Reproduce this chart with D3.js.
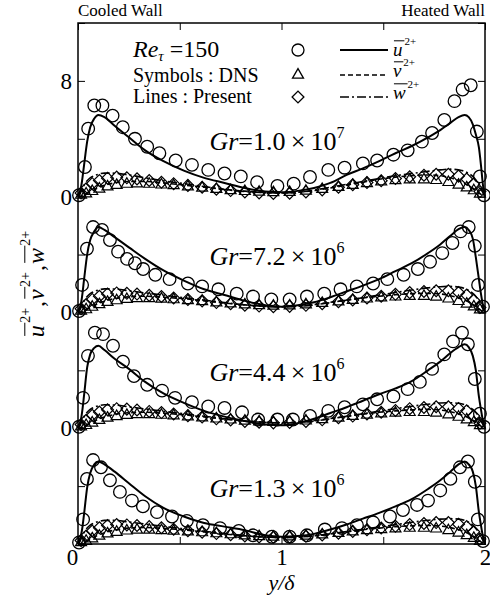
<!DOCTYPE html>
<meta charset="utf-8">
<html>
<head>
<script src="https://d3js.org/d3.v7.min.js"></script>
<style>
  body { margin: 0; background: #fff; }
  svg text { font-family: "Liberation Serif", "DejaVu Serif", serif; fill: #000; }
</style>
</head>
<body>
<div id="chart"></div>
<script>

// y/delta positions of the model curves
var lineX = [0, 0.01, 0.02, 0.03, 0.045, 0.06, 0.08, 0.1, 0.13,
             0.18, 0.25, 0.33, 0.42, 0.52, 0.62, 0.72, 0.82, 0.92,
             1.0, 1.08, 1.16, 1.24, 1.32, 1.4, 1.48, 1.56, 1.64,
             1.72, 1.78, 1.83, 1.87, 1.9, 1.92, 1.94, 1.955, 1.97,
             1.98, 1.99, 2.0];
// y/delta positions of the DNS triangles / diamonds
var symX = [0.015, 0.04, 0.07, 0.105, 0.145, 0.19, 0.24, 0.29, 0.35, 0.41, 0.47, 0.54,
            0.61, 0.68, 0.75, 0.82, 0.89, 0.96, 1.04, 1.12, 1.2, 1.28, 1.35, 1.42,
            1.49, 1.56, 1.63, 1.7, 1.76, 1.82, 1.87, 1.91, 1.945, 1.975];

var grMant = ["1.0", "7.2", "4.4", "1.3"];
var grExp = ["7", "6", "6", "6"];

// present model, u'2+
var uModel1 = [0, 0.3, 1.1, 2.2, 3.8, 4.8, 5.4, 5.65, 5.5, 4.9, 4.1, 3.2, 2.45, 1.8, 1.3, 0.95, 0.6, 0.35,
               0.3, 0.4, 0.6, 0.95, 1.5, 1.95, 2.45, 3.0, 3.5, 4.1, 4.6, 5.1, 5.5, 5.65, 5.5, 5.0, 4.3, 3.4, 2.2, 0.8, 0];
var uModel2 = [0, 0.3, 1.1, 2.3, 4.0, 5.0, 5.6, 5.9, 5.7, 5.2, 4.5, 3.7, 2.9, 2.2, 1.6, 1.2, 0.8, 0.5,
               0.4, 0.5, 0.7, 1.05, 1.45, 1.85, 2.3, 2.85, 3.4, 4.1, 4.7, 5.3, 5.75, 5.9, 5.7, 5.1, 3.8, 2.3, 1.3, 0.5, 0];
var uModel3 = [0, 0.3, 1.1, 2.3, 4.2, 5.1, 5.55, 5.7, 5.4, 4.8, 4.1, 3.2, 2.4, 1.75, 1.2, 0.8, 0.5, 0.25,
               0.2, 0.35, 0.65, 1.05, 1.45, 1.9, 2.35, 2.75, 3.25, 4.0, 4.6, 5.2, 5.6, 5.8, 5.6, 5.0, 4.0, 2.2, 1.3, 0.5, 0];
var uModel4 = [0, 0.3, 1.0, 2.1, 3.9, 4.9, 5.5, 5.7, 5.5, 5.0, 4.2, 3.3, 2.5, 1.9, 1.45, 1.2, 0.95, 0.6,
               0.5, 0.55, 0.7, 1.0, 1.35, 1.75, 2.15, 2.6, 3.1, 3.8, 4.4, 5.0, 5.5, 5.7, 5.5, 5.0, 4.0, 2.2, 1.3, 0.5, 0];

// present model, v'2+
var vModel1 = [0, 0.02, 0.06, 0.12, 0.22, 0.33, 0.48, 0.62, 0.78, 0.95, 1.05, 1.05, 0.95, 0.8, 0.65, 0.5, 0.38, 0.28,
               0.25, 0.3, 0.42, 0.6, 0.8, 1.0, 1.2, 1.35, 1.45, 1.5, 1.45, 1.3, 1.1, 0.9, 0.75, 0.58, 0.43, 0.27, 0.16, 0.06, 0];
var vModel2 = [0, 0.02, 0.06, 0.12, 0.22, 0.33, 0.48, 0.62, 0.78, 0.95, 1.08, 1.12, 1.05, 0.95, 0.8, 0.65, 0.52, 0.43,
               0.4, 0.44, 0.55, 0.7, 0.85, 1.0, 1.12, 1.22, 1.3, 1.32, 1.28, 1.15, 1.0, 0.85, 0.72, 0.56, 0.42, 0.26, 0.15, 0.05, 0];
var vModel3 = [0, 0.02, 0.06, 0.12, 0.22, 0.33, 0.48, 0.62, 0.78, 0.95, 1.07, 1.1, 1.04, 0.93, 0.78, 0.63, 0.5, 0.42,
               0.38, 0.42, 0.52, 0.67, 0.82, 0.97, 1.1, 1.2, 1.27, 1.3, 1.26, 1.14, 0.99, 0.84, 0.71, 0.55, 0.41, 0.26, 0.15, 0.05, 0];
var vModel4 = [0, 0.02, 0.06, 0.12, 0.22, 0.33, 0.48, 0.62, 0.78, 0.96, 1.1, 1.14, 1.08, 0.97, 0.83, 0.69, 0.57, 0.48,
               0.45, 0.48, 0.57, 0.7, 0.84, 0.98, 1.1, 1.2, 1.26, 1.28, 1.24, 1.13, 0.98, 0.84, 0.71, 0.55, 0.41, 0.26, 0.15, 0.05, 0];

// present model, w'2+
var wModel1 = [0, 0.2, 0.5, 0.8, 1.1, 1.3, 1.45, 1.55, 1.63, 1.62, 1.5, 1.3, 1.1, 0.9, 0.7, 0.5, 0.35, 0.28,
               0.25, 0.3, 0.45, 0.65, 0.85, 1.05, 1.25, 1.45, 1.6, 1.75, 1.85, 1.9, 1.85, 1.75, 1.6, 1.4, 1.15, 0.85, 0.6, 0.3, 0];
var wModel2 = [0, 0.2, 0.5, 0.8, 1.1, 1.3, 1.45, 1.55, 1.63, 1.62, 1.5, 1.35, 1.2, 1.02, 0.85, 0.68, 0.52, 0.42,
               0.38, 0.42, 0.52, 0.68, 0.85, 1.02, 1.2, 1.38, 1.55, 1.7, 1.78, 1.8, 1.75, 1.65, 1.52, 1.32, 1.1, 0.8, 0.55, 0.25, 0];
var wModel3 = [0, 0.2, 0.5, 0.8, 1.1, 1.3, 1.45, 1.55, 1.62, 1.6, 1.48, 1.33, 1.17, 1.0, 0.83, 0.66, 0.5, 0.4,
               0.36, 0.4, 0.5, 0.65, 0.82, 1.0, 1.18, 1.35, 1.52, 1.66, 1.74, 1.76, 1.72, 1.62, 1.5, 1.3, 1.08, 0.8, 0.55, 0.25, 0];
var wModel4 = [0, 0.2, 0.5, 0.8, 1.1, 1.3, 1.45, 1.55, 1.63, 1.63, 1.52, 1.38, 1.22, 1.05, 0.88, 0.72, 0.58, 0.48,
               0.44, 0.47, 0.56, 0.7, 0.86, 1.02, 1.18, 1.34, 1.5, 1.64, 1.72, 1.75, 1.72, 1.63, 1.5, 1.3, 1.08, 0.8, 0.55, 0.25, 0];

// DNS u'2+ (circles): [y/delta, value]
var uDns1 = [[0.005,0.1],[0.034,2.05],[0.05,4.7],[0.08,6.3],[0.12,6.3],[0.17,5.6],[0.22,4.8],[0.28,4.0],[0.34,3.45],
             [0.40,3.0],[0.48,2.5],[0.56,2.2],[0.64,1.85],[0.72,1.6],[0.80,1.4],[0.88,1.0],[0.98,0.74],[1.06,0.9],
             [1.14,1.36],[1.23,1.85],[1.31,2.0],[1.40,2.3],[1.47,2.5],[1.55,2.9],[1.62,3.2],[1.69,3.8],[1.74,4.4],
             [1.80,5.3],[1.85,6.6],[1.89,7.4],[1.93,7.7],[1.96,4.5],[1.975,1.4],[1.995,0.1]];
var uDns2 = [[0.005,0.1],[0.02,1.9],[0.044,4.4],[0.074,5.9],[0.118,5.7],[0.157,5.0],[0.197,4.2],[0.241,3.7],[0.28,3.4],
             [0.32,3.0],[0.38,2.6],[0.45,2.3],[0.54,2.0],[0.61,1.8],[0.69,1.6],[0.78,1.3],[0.86,1.1],[0.95,0.9],
             [1.04,0.9],[1.125,1.1],[1.21,1.3],[1.29,1.6],[1.37,1.8],[1.45,2.0],[1.52,2.3],[1.60,2.6],[1.67,3.0],
             [1.73,3.5],[1.79,4.1],[1.84,4.8],[1.88,5.6],[1.92,5.9],[1.95,4.6],[1.966,1.9],[1.99,0.4]];
var uDns3 = [[0.005,0.1],[0.025,2.1],[0.049,5.0],[0.083,6.6],[0.123,6.5],[0.172,5.7],[0.221,4.6],[0.275,3.6],[0.34,3.0],
             [0.413,2.6],[0.477,2.1],[0.56,1.8],[0.64,1.5],[0.72,1.4],[0.806,1.1],[0.885,0.6],[0.98,0.6],[1.056,0.6],
             [1.14,0.85],[1.23,1.2],[1.31,1.45],[1.40,1.65],[1.47,2.0],[1.55,2.2],[1.62,2.7],[1.68,3.2],[1.74,4.1],
             [1.80,5.1],[1.843,6.0],[1.887,6.6],[1.916,5.8],[1.95,3.4],[1.975,1.0],[1.995,0.1]];
var uDns4 = [[0.005,0.1],[0.025,1.7],[0.044,4.5],[0.074,5.8],[0.113,5.3],[0.157,4.4],[0.206,3.6],[0.265,3.0],[0.319,2.6],
             [0.388,2.2],[0.462,1.9],[0.535,1.6],[0.614,1.3],[0.698,1.1],[0.79,0.9],[0.86,0.6],[0.953,0.5],[1.04,0.5],
             [1.125,0.6],[1.213,1.0],[1.297,1.1],[1.371,1.3],[1.45,1.5],[1.533,1.9],[1.597,2.35],[1.666,2.7],[1.72,3.0],
             [1.78,3.7],[1.83,4.5],[1.877,5.3],[1.916,5.7],[1.95,4.3],[1.965,1.7],[1.99,0.2]];

// DNS v'2+ (triangles), on symX
var vDns1 = [0.04, 0.13, 0.3, 0.47, 0.62, 0.72, 0.8, 0.82, 0.8, 0.75, 0.7, 0.62, 0.53, 0.44, 0.36, 0.3, 0.25,
             0.22, 0.24, 0.32, 0.44, 0.58, 0.72, 0.85, 0.96, 1.05, 1.1, 1.1, 1.06, 0.92, 0.74, 0.55, 0.35, 0.12];
var vDns2 = [0.04, 0.13, 0.3, 0.48, 0.64, 0.75, 0.84, 0.9, 0.9, 0.86, 0.82, 0.76, 0.69, 0.61, 0.54, 0.46, 0.41,
             0.38, 0.4, 0.47, 0.57, 0.67, 0.78, 0.87, 0.95, 1.01, 1.05, 1.05, 1.0, 0.87, 0.7, 0.52, 0.33, 0.12];
var vDns3 = [0.04, 0.13, 0.3, 0.48, 0.64, 0.75, 0.83, 0.88, 0.88, 0.84, 0.8, 0.73, 0.66, 0.58, 0.51, 0.43, 0.38,
             0.35, 0.37, 0.44, 0.54, 0.64, 0.76, 0.85, 0.93, 0.99, 1.03, 1.03, 0.98, 0.86, 0.7, 0.52, 0.33, 0.12];
var vDns4 = [0.04, 0.13, 0.3, 0.48, 0.64, 0.75, 0.84, 0.9, 0.9, 0.87, 0.83, 0.78, 0.72, 0.65, 0.58, 0.5, 0.45,
             0.42, 0.43, 0.49, 0.57, 0.67, 0.78, 0.87, 0.94, 0.99, 1.03, 1.03, 0.98, 0.86, 0.7, 0.52, 0.33, 0.12];

// DNS w'2+ (diamonds), on symX
var wDns1 = [0.25, 0.55, 0.9, 1.12, 1.28, 1.35, 1.3, 1.23, 1.12, 1.0, 0.9, 0.78, 0.65, 0.52, 0.42, 0.32, 0.26,
             0.22, 0.24, 0.33, 0.47, 0.65, 0.82, 0.98, 1.1, 1.25, 1.38, 1.48, 1.55, 1.55, 1.42, 1.22, 0.87, 0.35];
var wDns2 = [0.25, 0.55, 0.9, 1.12, 1.28, 1.35, 1.32, 1.27, 1.18, 1.1, 1.0, 0.9, 0.8, 0.68, 0.6, 0.5, 0.44,
             0.4, 0.42, 0.49, 0.6, 0.74, 0.86, 1.0, 1.12, 1.25, 1.37, 1.45, 1.5, 1.5, 1.38, 1.2, 0.85, 0.35];
var wDns3 = [0.25, 0.55, 0.9, 1.12, 1.28, 1.35, 1.32, 1.26, 1.16, 1.08, 0.98, 0.87, 0.77, 0.65, 0.57, 0.47, 0.41,
             0.37, 0.4, 0.47, 0.58, 0.72, 0.84, 0.98, 1.1, 1.23, 1.35, 1.43, 1.48, 1.48, 1.37, 1.2, 0.85, 0.35];
var wDns4 = [0.25, 0.55, 0.9, 1.12, 1.28, 1.35, 1.32, 1.28, 1.2, 1.12, 1.02, 0.92, 0.82, 0.72, 0.64, 0.55, 0.49,
             0.46, 0.47, 0.53, 0.62, 0.75, 0.86, 0.99, 1.1, 1.22, 1.34, 1.42, 1.48, 1.48, 1.37, 1.2, 0.85, 0.35];

var xTicks = [0, 0.5, 1, 1.5, 2];
var yTicks = [0, 4, 8, 12, 16, 20, 24, 28, 32, 36];
var yTickText = {8: "0", 16: "0", 24: "0", 32: "8"};
var panelShift = [24, 16, 8, 0];   // each profile is stacked 8 units above the next

var panels = [
  {u: uModel1, v: vModel1, w: wModel1, du: uDns1, dv: vDns1, dw: wDns1},
  {u: uModel2, v: vModel2, w: wModel2, du: uDns2, dv: vDns2, dw: wDns2},
  {u: uModel3, v: vModel3, w: wModel3, du: uDns3, dv: vDns3, dw: wDns3},
  {u: uModel4, v: vModel4, w: wModel4, du: uDns4, dv: vDns4, dw: wDns4}
].map(function(p, i) {
  p.shift = panelShift[i]; p.mant = grMant[i]; p.exp = grExp[i];
  return p;
});

var serif = "'Liberation Serif', 'DejaVu Serif', serif";

var svg = d3.select("#chart").append("svg")
  .attr("width", 490).attr("height", 597)
  .attr("font-family", serif)
  .style("font-family", serif)
  .style("display", "block");

var x = d3.scaleLinear().domain([0, 2]).range([78, 485]);
var y = d3.scaleLinear().domain([0, 36]).range([544, 23]);

var dashV = "5,3";
var dashW = "9,3,2,3";
var tri = d3.symbol().type(d3.symbolTriangle).size(52)();
var dia = d3.symbol().type(d3.symbolSquare).size(70)();

// overlined italic letter with a "2+" superscript, returns its width
function barred(g, x0, base, letter, fs) {
  var t = g.append("text").attr("x", x0).attr("y", base)
    .attr("font-size", fs).attr("font-style", "italic").text(letter);
  var w = t.node().getComputedTextLength();
  var sx = x0 + w + fs * 0.1;
  g.append("line")
    .attr("x1", x0 + fs * 0.05).attr("x2", sx)
    .attr("y1", base - fs * 0.8).attr("y2", base - fs * 0.8)
    .attr("stroke", "#000").attr("stroke-width", 1);
  var s = g.append("text").attr("x", sx).attr("y", base - fs * 0.58)
    .attr("font-size", fs * 0.58).text("2+");
  return sx + s.node().getComputedTextLength() - x0;
}

// profiles
panels.forEach(function(p) {
  var g = svg.append("g");
  var line = d3.line()
    .x(function(d) { return x(d[0]); })
    .y(function(d) { return y(d[1] + p.shift); })
    .curve(d3.curveMonotoneX);
  function pts(arr) { return lineX.map(function(xx, i) { return [xx, arr[i]]; }); }

  g.append("path").attr("d", line(pts(p.w)))
    .attr("fill", "none").attr("stroke", "#000").attr("stroke-width", 1.6)
    .attr("stroke-dasharray", dashW);
  g.append("path").attr("d", line(pts(p.v)))
    .attr("fill", "none").attr("stroke", "#000").attr("stroke-width", 1.6)
    .attr("stroke-dasharray", dashV);

  g.selectAll("path.tri")
    .data(symX.map(function(xx, i) { return [xx, p.dv[i]]; }))
    .join("path").attr("class", "tri")
    .attr("d", tri)
    .attr("transform", function(d) { return "translate(" + x(d[0]) + "," + (y(d[1] + p.shift) - 1) + ")"; })
    .attr("fill", "none").attr("stroke", "#000").attr("stroke-width", 1.2);

  g.selectAll("path.dia")
    .data(symX.map(function(xx, i) { return [xx, p.dw[i]]; }))
    .join("path").attr("class", "dia")
    .attr("d", dia)
    .attr("transform", function(d) { return "translate(" + x(d[0]) + "," + y(d[1] + p.shift) + ") rotate(45)"; })
    .attr("fill", "none").attr("stroke", "#000").attr("stroke-width", 1.2);

  g.append("path").attr("d", line(pts(p.u)))
    .attr("fill", "none").attr("stroke", "#000").attr("stroke-width", 2);

  g.selectAll("circle")
    .data(p.du)
    .join("circle")
    .attr("cx", function(d) { return x(d[0]); })
    .attr("cy", function(d) { return y(d[1] + p.shift); })
    .attr("r", 6.3)
    .attr("fill", "none").attr("stroke", "#000").attr("stroke-width", 1.3);

  var t = svg.append("text")
    .attr("x", 277).attr("y", y(p.shift + 3.25))
    .attr("text-anchor", "middle").attr("font-size", 26);
  t.append("tspan").attr("font-style", "italic").text("Gr");
  t.append("tspan").text("=" + p.mant + "\u2009\u00d7\u200910");
  t.append("tspan").attr("font-size", 16).attr("dy", "-0.75em").text(p.exp);
});

// axes (ticks pointing inward)
function styleAxis(sel) {
  sel.select(".domain").remove();
  sel.selectAll(".tick line").attr("stroke", "#000").attr("stroke-width", 1);
  sel.attr("font-family", serif).attr("font-size", 23);
}

svg.append("g").attr("transform", "translate(0," + y(0) + ")")
  .call(d3.axisBottom(x).tickValues(xTicks).tickSizeInner(-7).tickSizeOuter(0).tickPadding(5)
    .tickFormat(function(d) { return d % 1 === 0 ? d : ""; }))
  .call(styleAxis)
  .selectAll(".tick text")
  .attr("dx", function(d) { return d === 0 ? -6 : 0; });

svg.append("g").attr("transform", "translate(0," + y(36) + ")")
  .call(d3.axisTop(x).tickValues(xTicks).tickSizeInner(-7).tickSizeOuter(0).tickFormat(""))
  .call(styleAxis);

svg.append("g").attr("transform", "translate(" + x(0) + ",0)")
  .call(d3.axisLeft(y).tickValues(yTicks).tickSizeInner(-7).tickSizeOuter(0).tickPadding(6)
    .tickFormat(function(d) { return yTickText[d] || ""; }))
  .call(styleAxis);

svg.append("g").attr("transform", "translate(" + x(2) + ",0)")
  .call(d3.axisRight(y).tickValues(yTicks).tickSizeInner(-7).tickSizeOuter(0).tickFormat(""))
  .call(styleAxis);

svg.append("rect")
  .attr("x", x(0)).attr("y", y(36))
  .attr("width", x(2) - x(0)).attr("height", y(0) - y(36))
  .attr("fill", "none").attr("stroke", "#000").attr("stroke-width", 1.5);

// wall captions
svg.append("text").attr("x", x(0)).attr("y", 16).attr("font-size", 17).text("Cooled Wall");
svg.append("text").attr("x", x(2)).attr("y", 16).attr("font-size", 17)
  .attr("text-anchor", "end").text("Heated Wall");

// axis titles
svg.append("text").attr("x", x(1)).attr("y", 590)
  .attr("text-anchor", "middle").attr("font-size", 22).attr("font-style", "italic")
  .text("y/\u03b4");

var yl = svg.append("g");
var cx = 0;
cx += barred(yl, cx, 0, "u", 24);
yl.append("text").attr("x", cx + 1).attr("y", 0).attr("font-size", 24).text(",");
cx += 8;
cx += barred(yl, cx, 0, "v", 24);
yl.append("text").attr("x", cx + 1).attr("y", 0).attr("font-size", 24).text(",");
cx += 8;
cx += barred(yl, cx, 0, "w", 24);
yl.attr("transform", "translate(44," + (284 + cx / 2) + ") rotate(-90)");

// legend
var re = svg.append("text").attr("x", 133).attr("y", 57).attr("font-size", 24);
re.append("tspan").attr("font-style", "italic").text("Re");
re.append("tspan").attr("font-style", "italic").attr("font-size", 15).attr("dy", 4).text("\u03c4");
re.append("tspan").attr("dy", -4).text(" =150");
svg.append("text").attr("x", 133).attr("y", 82).attr("font-size", 20).text("Symbols : DNS");
svg.append("text").attr("x", 133).attr("y", 103).attr("font-size", 20).text("Lines : Present");

var legY = [50, 75, 97];
svg.append("circle").attr("cx", 298).attr("cy", legY[0]).attr("r", 6)
  .attr("fill", "none").attr("stroke", "#000").attr("stroke-width", 1.3);
svg.append("path").attr("d", tri).attr("transform", "translate(298," + legY[1] + ")")
  .attr("fill", "none").attr("stroke", "#000").attr("stroke-width", 1.3);
svg.append("path").attr("d", dia).attr("transform", "translate(298," + legY[2] + ") rotate(45)")
  .attr("fill", "none").attr("stroke", "#000").attr("stroke-width", 1.3);

[null, dashV, dashW].forEach(function(da, i) {
  svg.append("line").attr("x1", 340).attr("x2", 388).attr("y1", legY[i]).attr("y2", legY[i])
    .attr("stroke", "#000").attr("stroke-width", i === 0 ? 2 : 1.6)
    .attr("stroke-dasharray", da);
});
barred(svg, 393, 56, "u", 19);
barred(svg, 393, 77, "v", 19);
barred(svg, 393, 99, "w", 19);

</script>
</body>
</html>
